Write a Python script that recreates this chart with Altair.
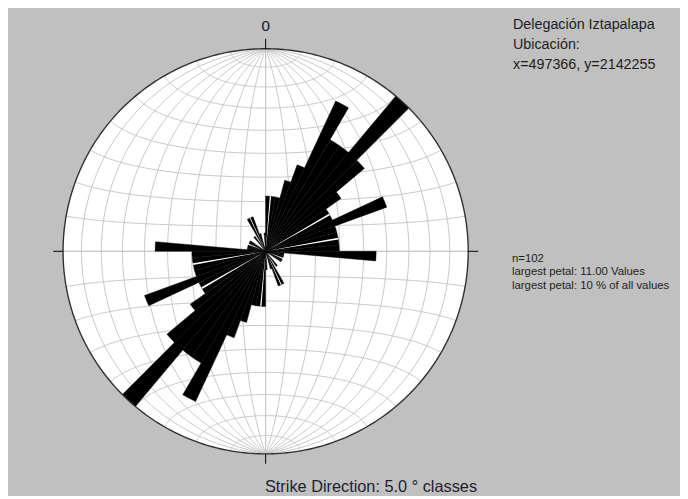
import altair as alt
import numpy as np
import pandas as pd

# ---------------- data ----------------
class_start = list(range(0, 180, 5))          # strike classes (5 degree), mirrored at +180
counts = [3, 3, 3, 4, 5, 9, 7, 7, 11, 7, 5, 4, 4, 7, 4, 4, 4, 4,
          6, 1, 1, 1, 0, 1, 1, 0, 0, 0, 1, 0, 2, 2, 1, 0, 0, 1]
class_width = 5
max_count = 11
# thin white seams seen between some neighbouring petals
seam_angles = [5, 60, 80, 155]
seam_counts = [3, 4, 4, 2]

header_lines = ["Delegación Iztapalapa", "Ubicación:", "x=497366, y=2142255"]
stats_lines = ["n=102", "largest petal: 11.00 Values", "largest petal: 10 % of all values"]
title_text = "Strike Direction: 5.0 ° classes"
north_label = "0"

grid_step = 10
tick_angles = [0, 90, 180, 270]

# ---------------- layout ----------------
W, H = 680, 488
CX, CY, R = 260.7, 243.3, 205.0
BG = "#c0c0c0"

rows = []
for s, c in zip(class_start, counts):
    if c <= 0:
        continue
    for off in (0, 180):
        rows.append({"a0": s + off, "a1": s + off + class_width, "n": c})
petals = pd.DataFrame(rows)

srows = []
for a, c in zip(seam_angles, seam_counts):
    for off in (0, 180):
        srows.append({"a0": a + off - 0.7, "a1": a + off + 0.7, "n": c})
seams = pd.DataFrame(srows)

def proj(lam_deg, phi_deg):
    lam = np.radians(lam_deg)
    phi = np.radians(phi_deg)
    k = np.sqrt(2.0 / (1.0 + np.cos(phi) * np.cos(lam)))
    x = (R / np.sqrt(2)) * k * np.cos(phi) * np.sin(lam)
    y = (R / np.sqrt(2)) * k * np.sin(phi)
    return CX + x, CY - y

grid_rows = []
gid = 0
for lam in range(-90 + grid_step, 90, grid_step):
    phis = np.linspace(-90, 90, 181)
    xs_, ys_ = proj(np.full_like(phis, lam, dtype=float), phis)
    for i, (xv, yv) in enumerate(zip(xs_, ys_)):
        grid_rows.append({"g": gid, "o": i, "x": xv, "y": yv})
    gid += 1
for phi in range(-90 + grid_step, 90, grid_step):
    lams = np.linspace(-90, 90, 181)
    xs_, ys_ = proj(lams, np.full_like(lams, phi, dtype=float))
    for i, (xv, yv) in enumerate(zip(xs_, ys_)):
        grid_rows.append({"g": gid, "o": i, "x": xv, "y": yv})
    gid += 1
grid = pd.DataFrame(grid_rows)

t = np.radians(np.arange(0, 361, 1))
circle = pd.DataFrame({"o": np.arange(len(t)), "x": CX + R * np.sin(t), "y": CY - R * np.cos(t)})

tk = np.radians(tick_angles)
ticks = pd.DataFrame({
    "x": CX + R * np.sin(tk), "y": CY - R * np.cos(tk),
    "x2": CX + (R + 10) * np.sin(tk), "y2": CY - (R + 10) * np.cos(tk),
})

xs = alt.Scale(domain=[0, W], nice=False, zero=False)
ys = alt.Scale(domain=[0, H], nice=False, zero=False, reverse=True)
X = lambda f: alt.X(f, scale=xs, axis=None)
Y = lambda f: alt.Y(f, scale=ys, axis=None)

theta_scale = alt.Scale(domain=[0, 360], range=[0, 2 * np.pi])
radius_scale = alt.Scale(type="linear", domain=[0, max_count], range=[0, R], zero=True)

disk = alt.Chart(pd.DataFrame({"d": [0]})).mark_arc(
    theta=0, theta2=2 * np.pi, radius=R, fill="white"
).encode(x=alt.value(CX), y=alt.value(CY))

grid_layer = alt.Chart(grid).mark_line(color="#c6c6c6", strokeWidth=1).encode(
    x=X("x:Q"), y=Y("y:Q"), detail="g:N", order="o:Q"
)

axes_lines = pd.DataFrame({"x": [CX - R, CX], "y": [CY, CY - R], "x2": [CX + R, CX], "y2": [CY, CY + R]})
axes_layer = alt.Chart(axes_lines).mark_rule(color="#c6c6c6", strokeWidth=1).encode(
    x=X("x:Q"), y=Y("y:Q"), x2="x2:Q", y2="y2:Q"
)

petal_layer = alt.Chart(petals).mark_arc(fill="black", stroke="black", strokeWidth=0.4).encode(
    x=alt.value(CX), y=alt.value(CY),
    theta=alt.Theta("a0:Q", scale=theta_scale, stack=False),
    theta2="a1:Q",
    radius=alt.Radius("n:Q", scale=radius_scale),
)

seam_layer = alt.Chart(seams).mark_arc(fill="white").encode(
    x=alt.value(CX), y=alt.value(CY),
    theta=alt.Theta("a0:Q", scale=theta_scale, stack=False),
    theta2="a1:Q",
    radius=alt.Radius("n:Q", scale=radius_scale),
)

circle_layer = alt.Chart(circle).mark_line(color="#303030", strokeWidth=1.4).encode(
    x=X("x:Q"), y=Y("y:Q"), order="o:Q"
)

tick_layer = alt.Chart(ticks).mark_rule(color="black", strokeWidth=1).encode(
    x=X("x:Q"), y=Y("y:Q"), x2="x2:Q", y2="y2:Q"
)

north = alt.Chart(pd.DataFrame({"t": [north_label]})).mark_text(
    font="DejaVu Sans", fontSize=15, color="#20203a", align="center", baseline="alphabetic"
).encode(x=alt.value(CX), y=alt.value(20), text="t:N")

hdr = pd.DataFrame({"t": header_lines})
hdr["y"] = [14, 34.5, 55]
header_layer = alt.Chart(hdr).mark_text(
    font="Liberation Sans", fontSize=14.5, color="#1e1e1e", align="left", baseline="middle"
).encode(x=alt.value(511), y=Y("y:Q"), text="t:N")

st = pd.DataFrame({"t": stats_lines})
st["y"] = [251, 264.5, 278]
stats_layer = alt.Chart(st).mark_text(
    font="Liberation Sans", fontSize=11.5, color="#1e1e1e", align="left", baseline="middle"
).encode(x=alt.value(510), y=Y("y:Q"), text="t:N")

title_layer = alt.Chart(pd.DataFrame({"t": [title_text]})).mark_text(
    font="Liberation Sans", fontSize=16.5, color="#1e1e2e", align="left", baseline="alphabetic"
).encode(x=alt.value(260), y=alt.value(487), text="t:N")

chart = alt.layer(
    disk, grid_layer, axes_layer, petal_layer, seam_layer, circle_layer, tick_layer,
    north, header_layer, stats_layer, title_layer
).properties(
    width=W, height=H, padding=0, background=BG,
    autosize=alt.AutoSizeParams(type="none"),
).configure_view(stroke=None)

chart.save("out.html", embed_options={"renderer": "svg", "actions": False})
